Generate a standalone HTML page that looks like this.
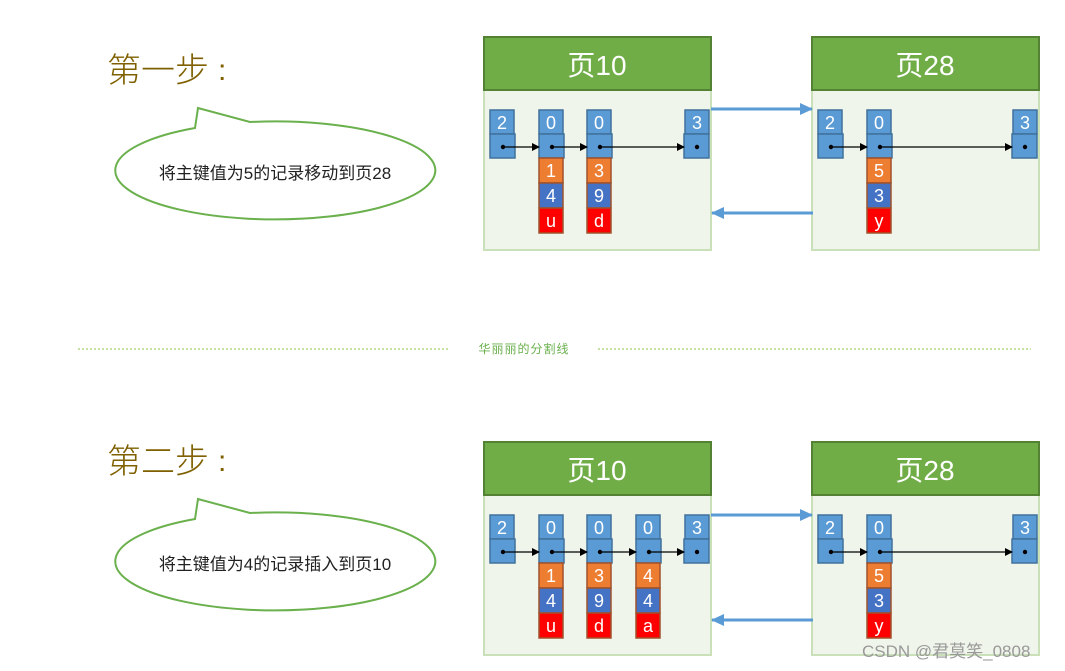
<!DOCTYPE html>
<html><head><meta charset="utf-8"><style>
html,body{margin:0;padding:0;background:#fff;}
svg{display:block;font-family:"Liberation Sans","Noto Sans CJK SC",sans-serif;}
</style></head><body>
<svg width="1065" height="671" viewBox="0 0 1065 671" xmlns="http://www.w3.org/2000/svg">
<defs>
<marker id="ah" markerWidth="8" markerHeight="8" refX="7" refY="4" orient="auto" markerUnits="userSpaceOnUse"><path d="M0,0 L8,4 L0,8 z" fill="#000"/></marker>
<marker id="bh" markerWidth="14" markerHeight="14" refX="12" refY="7" orient="auto" markerUnits="userSpaceOnUse"><path d="M0,1 L13,7 L0,13 z" fill="#5b9bd5"/></marker>
</defs>
<g>
<text x="107" y="82" font-size="34" fill="#7f6000" font-weight="300">第一步</text>
<text x="218" y="80" font-size="30" fill="#7f6000">:</text>
<path d="M198,108 L195,128 A160,49 0 1 0 250,122 Z" fill="#fff" stroke="#6ab04c" stroke-width="2"/>
<text x="275" y="179" font-size="17" fill="#222" text-anchor="middle">将主键值为5的记录移动到页28</text>
</g>
<g>
<text x="107" y="473" font-size="34" fill="#7f6000" font-weight="300">第二步</text>
<text x="218" y="471" font-size="30" fill="#7f6000">:</text>
<path d="M198,499 L195,519 A160,49 0 1 0 250,513 Z" fill="#fff" stroke="#6ab04c" stroke-width="2"/>
<text x="275" y="570" font-size="17" fill="#222" text-anchor="middle">将主键值为4的记录插入到页10</text>
</g>
<line x1="78" y1="349" x2="448" y2="349" stroke="#8bc34a" stroke-dasharray="2,2"/>
<line x1="598" y1="349" x2="1031" y2="349" stroke="#8bc34a" stroke-dasharray="2,2"/>
<text x="524" y="353" font-size="12" fill="#6ab04c" text-anchor="middle" letter-spacing="1">华丽丽的分割线</text>

<g font-size="22" fill="#fff" text-anchor="middle">
<rect x="484" y="89" width="227" height="161" fill="#f0f5eb" stroke="#c9e0b8" stroke-width="2"/>
<rect x="484" y="37" width="227" height="53" fill="#70ad47" stroke="#548235" stroke-width="2"/>
<text x="597" y="75" font-size="28">页10</text>
<rect x="812" y="89" width="227" height="161" fill="#f0f5eb" stroke="#c9e0b8" stroke-width="2"/>
<rect x="812" y="37" width="227" height="53" fill="#70ad47" stroke="#548235" stroke-width="2"/>
<text x="925" y="75" font-size="28">页28</text>
<rect x="484" y="494" width="227" height="161" fill="#f0f5eb" stroke="#c9e0b8" stroke-width="2"/>
<rect x="484" y="442" width="227" height="53" fill="#70ad47" stroke="#548235" stroke-width="2"/>
<text x="597" y="480" font-size="28">页10</text>
<rect x="812" y="494" width="227" height="161" fill="#f0f5eb" stroke="#c9e0b8" stroke-width="2"/>
<rect x="812" y="442" width="227" height="53" fill="#70ad47" stroke="#548235" stroke-width="2"/>
<text x="925" y="480" font-size="28">页28</text>
</g>

<g font-size="18" fill="#fff" text-anchor="middle" stroke-width="1.5">
<g stroke="#41719c" fill="#5b9bd5">
<rect x="490" y="110" width="24" height="24"/><rect x="490" y="134" width="25" height="24"/>
<rect x="539" y="110" width="24" height="24"/><rect x="539" y="134" width="25" height="24"/>
<rect x="587" y="110" width="24" height="24"/><rect x="587" y="134" width="25" height="24"/>
<rect x="685" y="110" width="24" height="24"/><rect x="684" y="134" width="25" height="24"/>
<rect x="818" y="110" width="24" height="24"/><rect x="818" y="134" width="25" height="24"/>
<rect x="867" y="110" width="24" height="24"/><rect x="867" y="134" width="25" height="24"/>
<rect x="1013" y="110" width="24" height="24"/><rect x="1012" y="134" width="25" height="24"/>
<rect x="490" y="515" width="24" height="24"/><rect x="490" y="539" width="25" height="24"/>
<rect x="539" y="515" width="24" height="24"/><rect x="539" y="539" width="25" height="24"/>
<rect x="587" y="515" width="24" height="24"/><rect x="587" y="539" width="25" height="24"/>
<rect x="636" y="515" width="24" height="24"/><rect x="636" y="539" width="25" height="24"/>
<rect x="685" y="515" width="24" height="24"/><rect x="684" y="539" width="25" height="24"/>
<rect x="818" y="515" width="24" height="24"/><rect x="818" y="539" width="25" height="24"/>
<rect x="867" y="515" width="24" height="24"/><rect x="867" y="539" width="25" height="24"/>
<rect x="1013" y="515" width="24" height="24"/><rect x="1012" y="539" width="25" height="24"/>
</g>
<g stroke="#a0522d">
<rect x="539" y="158" width="24" height="25" fill="#ed7d31"/><rect x="539" y="183" width="24" height="25" fill="#4472c4"/><rect x="539" y="208" width="24" height="25" fill="#ff0000"/>
<rect x="587" y="158" width="24" height="25" fill="#ed7d31"/><rect x="587" y="183" width="24" height="25" fill="#4472c4"/><rect x="587" y="208" width="24" height="25" fill="#ff0000"/>
<rect x="867" y="158" width="24" height="25" fill="#ed7d31"/><rect x="867" y="183" width="24" height="25" fill="#4472c4"/><rect x="867" y="208" width="24" height="25" fill="#ff0000"/>
<rect x="539" y="563" width="24" height="25" fill="#ed7d31"/><rect x="539" y="588" width="24" height="25" fill="#4472c4"/><rect x="539" y="613" width="24" height="25" fill="#ff0000"/>
<rect x="587" y="563" width="24" height="25" fill="#ed7d31"/><rect x="587" y="588" width="24" height="25" fill="#4472c4"/><rect x="587" y="613" width="24" height="25" fill="#ff0000"/>
<rect x="636" y="563" width="24" height="25" fill="#ed7d31"/><rect x="636" y="588" width="24" height="25" fill="#4472c4"/><rect x="636" y="613" width="24" height="25" fill="#ff0000"/>
<rect x="867" y="563" width="24" height="25" fill="#ed7d31"/><rect x="867" y="588" width="24" height="25" fill="#4472c4"/><rect x="867" y="613" width="24" height="25" fill="#ff0000"/>
</g>
<g stroke="none">
<text x="502" y="129">2</text><text x="551" y="129">0</text><text x="599" y="129">0</text><text x="697" y="129">3</text>
<text x="830" y="129">2</text><text x="879" y="129">0</text><text x="1025" y="129">3</text>
<text x="551" y="177">1</text><text x="551" y="202">4</text><text x="551" y="227">u</text>
<text x="599" y="177">3</text><text x="599" y="202">9</text><text x="599" y="227">d</text>
<text x="879" y="177">5</text><text x="879" y="202">3</text><text x="879" y="227">y</text>
<text x="502" y="534">2</text><text x="551" y="534">0</text><text x="599" y="534">0</text><text x="648" y="534">0</text><text x="697" y="534">3</text>
<text x="830" y="534">2</text><text x="879" y="534">0</text><text x="1025" y="534">3</text>
<text x="551" y="582">1</text><text x="551" y="607">4</text><text x="551" y="632">u</text>
<text x="599" y="582">3</text><text x="599" y="607">9</text><text x="599" y="632">d</text>
<text x="648" y="582">4</text><text x="648" y="607">4</text><text x="648" y="632">a</text>
<text x="879" y="582">5</text><text x="879" y="607">3</text><text x="879" y="632">y</text>
</g>
</g>

<g stroke="#000" stroke-width="1.2" fill="none" marker-end="url(#ah)">
<line x1="503" y1="147" x2="539" y2="147"/><line x1="552" y1="147" x2="587" y2="147"/><line x1="600" y1="147" x2="684" y2="147"/>
<line x1="831" y1="147" x2="867" y2="147"/><line x1="880" y1="147" x2="1012" y2="147"/>
<line x1="503" y1="552" x2="539" y2="552"/><line x1="552" y1="552" x2="587" y2="552"/><line x1="600" y1="552" x2="636" y2="552"/><line x1="649" y1="552" x2="684" y2="552"/>
<line x1="831" y1="552" x2="867" y2="552"/><line x1="880" y1="552" x2="1012" y2="552"/>
</g>
<g fill="#000">
<circle cx="503" cy="147" r="2.2"/><circle cx="552" cy="147" r="2.2"/><circle cx="600" cy="147" r="2.2"/><circle cx="697" cy="147" r="2.2"/>
<circle cx="831" cy="147" r="2.2"/><circle cx="880" cy="147" r="2.2"/><circle cx="1025" cy="147" r="2.2"/>
<circle cx="503" cy="552" r="2.2"/><circle cx="552" cy="552" r="2.2"/><circle cx="600" cy="552" r="2.2"/><circle cx="649" cy="552" r="2.2"/><circle cx="697" cy="552" r="2.2"/>
<circle cx="831" cy="552" r="2.2"/><circle cx="880" cy="552" r="2.2"/><circle cx="1025" cy="552" r="2.2"/>
</g>

<g stroke="#5b9bd5" stroke-width="3" marker-end="url(#bh)">
<line x1="711" y1="109" x2="812" y2="109"/>
<line x1="813" y1="213" x2="712" y2="213"/>
<line x1="711" y1="515" x2="812" y2="515"/>
<line x1="813" y1="620" x2="712" y2="620"/>
</g>

<text x="862" y="657" font-size="17" fill="#999">CSDN @君莫笑_0808</text>
</svg>
</body></html>
